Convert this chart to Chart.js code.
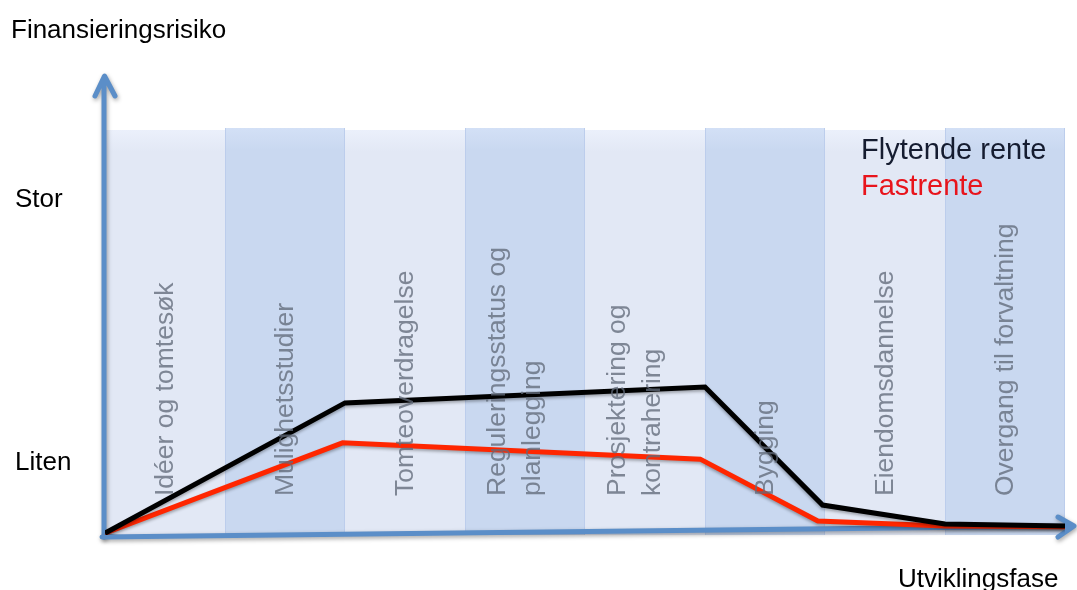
<!DOCTYPE html>
<html>
<head>
<meta charset="utf-8">
<script src="https://cdn.jsdelivr.net/npm/chart.js@4/dist/chart.umd.min.js"></script>
<style>
  html, body { margin: 0; padding: 0; background: #fff; }
  #wrap { width: 1077px; height: 590px; position: relative; }
</style>
</head>
<body>
<div id="wrap"><canvas id="chart"></canvas></div>
<script>
// phases along the development axis, one column each
var phases = [
  ['Idéer og tomtesøk'],
  ['Mulighetsstudier'],
  ['Tomteoverdragelse'],
  ['Reguleringsstatus og', 'planlegging'],
  ['Prosjektering og', 'kontrahering'],
  ['Bygging'],
  ['Eiendomsdannelse'],
  ['Overgang til forvaltning']
];

// risk level labels on the vertical axis
var riskLabels = ['Liten', 'Stor'];
var riskValues = [2, 9.1];

// floating rate
var flytendeX = [0, 2, 5, 5.98, 7, 8];
var flytendeY = [0.05, 3.57, 4.0, 0.81, 0.30, 0.24];

// fixed rate
var fastX = [0, 1.98, 4.96, 5.94, 7, 8];
var fastY = [0.05, 2.49, 2.05, 0.38, 0.24, 0.22];

function toPoints(xs, ys) {
  var pts = [];
  for (var i = 0; i < xs.length; i++) pts.push({x: xs[i], y: ys[i]});
  return pts;
}

var FONT = '"Liberation Sans", Arial, sans-serif';

var backdrop = {
  id: 'backdrop',
  beforeDatasetsDraw: function (chart) {
    var ctx = chart.ctx;
    var xs = chart.scales.x, ys = chart.scales.y;
    var top = chart.chartArea.top, bottom = chart.chartArea.bottom;
    ctx.save();
    for (var i = 0; i < phases.length; i++) {
      var x0 = xs.getPixelForValue(i), x1 = xs.getPixelForValue(i + 1);
      var dark = i % 2 === 1;
      var t = dark ? top : top + 2;
      var g = ctx.createLinearGradient(0, t, 0, t + 22);
      g.addColorStop(0, dark ? '#d3e0f6' : '#ebf0fb');
      g.addColorStop(1, dark ? '#c9d8f0' : '#e2e8f5');
      ctx.fillStyle = g;
      ctx.fillRect(x0, t, x1 - x0, bottom - t);
      if (dark) {
        ctx.strokeStyle = '#bccdec';
        ctx.lineWidth = 1;
        ctx.beginPath();
        ctx.moveTo(x0 + 0.5, t); ctx.lineTo(x0 + 0.5, bottom);
        ctx.moveTo(x1 - 0.5, t); ctx.lineTo(x1 - 0.5, bottom);
        ctx.stroke();
      }
    }

    // axes with arrow heads
    ctx.shadowColor = 'rgba(0,0,0,0.35)';
    ctx.shadowBlur = 4;
    ctx.shadowOffsetX = 1;
    ctx.shadowOffsetY = 2;
    ctx.strokeStyle = '#5b8ec8';
    ctx.lineWidth = 5;
    ctx.lineCap = 'round';
    ctx.lineJoin = 'round';
    ctx.beginPath();
    ctx.moveTo(104, 537); ctx.lineTo(104, 77);
    ctx.moveTo(95, 96); ctx.lineTo(104.5, 76); ctx.lineTo(115, 96);
    ctx.stroke();
    ctx.beginPath();
    ctx.moveTo(102, 537); ctx.lineTo(1073, 526);
    ctx.moveTo(1058, 517); ctx.lineTo(1074, 526); ctx.lineTo(1058, 537);
    ctx.stroke();
    ctx.restore();

    // line shadows
    ctx.save();
    ctx.shadowColor = 'rgba(0,0,0,0.3)';
    ctx.shadowBlur = 3;
    ctx.shadowOffsetY = 2;
  },
  afterDatasetsDraw: function (chart) {
    var ctx = chart.ctx;
    ctx.restore();
    var xs = chart.scales.x, ys = chart.scales.y;
    ctx.save();

    // phase names, rotated inside each column
    ctx.font = '26.5px ' + FONT;
    ctx.fillStyle = 'rgba(98,106,122,0.78)';
    ctx.textAlign = 'left';
    ctx.textBaseline = 'middle';
    for (var i = 0; i < phases.length; i++) {
      var cx = xs.getPixelForValue(i + 0.5);
      var lines = phases[i];
      for (var j = 0; j < lines.length; j++) {
        var off = lines.length > 1 ? (j - 0.5) * 35 - 10 : 1;
        ctx.save();
        ctx.translate(cx + off, 496);
        ctx.rotate(-Math.PI / 2);
        ctx.fillText(lines[j], 0, 0);
        ctx.restore();
      }
    }

    // vertical axis labels
    ctx.fillStyle = '#000';
    ctx.font = '26px ' + FONT;
    ctx.textBaseline = 'alphabetic';
    for (var k = 0; k < riskLabels.length; k++) {
      ctx.fillText(riskLabels[k], 15, ys.getPixelForValue(riskValues[k]) + 9);
    }
    ctx.fillText('Finansieringsrisiko', 11, 38);
    ctx.fillText('Utviklingsfase', 898, 587);

    // legend
    ctx.font = '29px ' + FONT;
    ctx.fillStyle = '#151c30';
    ctx.fillText(chart.data.datasets[0].label, 861, 159);
    ctx.fillStyle = '#e8141c';
    ctx.fillText(chart.data.datasets[1].label, 861, 195);
    ctx.restore();
  }
};

new Chart(document.getElementById('chart'), {
  type: 'line',
  data: {
    datasets: [
      {
        label: 'Flytende rente',
        data: toPoints(flytendeX, flytendeY),
        borderColor: '#000000',
        borderWidth: 5,
        pointRadius: 0,
        tension: 0
      },
      {
        label: 'Fastrente',
        data: toPoints(fastX, fastY),
        borderColor: '#ff2600',
        borderWidth: 5,
        pointRadius: 0,
        tension: 0
      }
    ]
  },
  options: {
    responsive: true,
    maintainAspectRatio: false,
    animation: false,
    layout: { padding: { left: 105, right: 12, top: 128, bottom: 55 } },
    plugins: {
      legend: { display: false },
      tooltip: { enabled: false }
    },
    scales: {
      x: { type: 'linear', min: 0, max: 8, display: false },
      y: { type: 'linear', min: 0, max: 11, display: false }
    }
  },
  plugins: [backdrop]
});
</script>
</body>
</html>
